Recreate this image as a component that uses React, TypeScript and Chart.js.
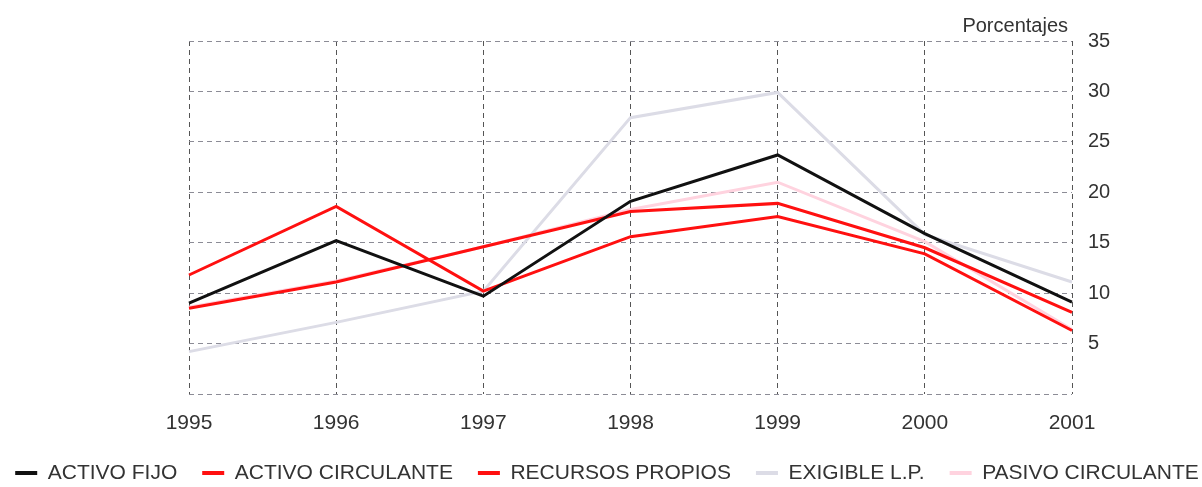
import React, { useEffect, useRef } from 'react';
import { Chart, registerables } from 'chart.js';

Chart.register(...registerables);

const years = ['1995', '1996', '1997', '1998', '1999', '2000', '2001'];
const activoFijo = [9.0, 15.2, 9.7, 19.1, 23.7, 15.9, 9.1];
const activoCirculante = [11.8, 18.6, 10.2, 15.6, 17.6, 13.9, 6.3];
const recursosPropios = [8.5, 11.1, 14.6, 18.1, 18.9, 14.5, 8.1];
const exigibleLP = [4.2, 7.1, 10.2, 27.4, 29.9, 15.8, 11.1];
const pasivoCirculante = [8.6, 11.2, 14.6, 18.3, 21.0, 15.1, 6.4];
const seriesNames = ['ACTIVO FIJO', 'ACTIVO CIRCULANTE', 'RECURSOS PROPIOS', 'EXIGIBLE L.P.', 'PASIVO CIRCULANTE'];
const seriesColors = ['#111111', '#ff1010', '#ff1010', '#dcdce6', '#ffd3df'];
const unitLabel = 'Porcentajes';

const FONT = "'Liberation Sans', Arial, sans-serif";

export default function App() {
  const ref = useRef<HTMLCanvasElement | null>(null);

  useEffect(() => {
    document.body.style.margin = '0';
    const canvas = ref.current;
    if (!canvas) return;
    const seriesData = [activoFijo, activoCirculante, recursosPropios, exigibleLP, pasivoCirculante];

    const titlePlugin = {
      id: 'unitLabel',
      afterDraw(chart: any) {
        const ctx = chart.ctx;
        ctx.save();
        ctx.font = `20px ${FONT}`;
        ctx.fillStyle = '#333333';
        ctx.textAlign = 'right';
        ctx.textBaseline = 'alphabetic';
        ctx.fillText(unitLabel, chart.chartArea.right - 4, 32);
        ctx.restore();
      },
    };

    const chart = new Chart(canvas, {
      type: 'line',
      data: {
        labels: years,
        datasets: seriesNames.map((name, i) => ({
          label: name,
          data: seriesData[i],
          borderColor: seriesColors[i],
          backgroundColor: seriesColors[i],
          borderWidth: 3,
          pointRadius: 0,
          tension: 0,
          fill: false,
          yAxisID: 'y',
        })),
      },
      options: {
        responsive: false,
        animation: false,
        layout: { padding: { left: -24, top: 41, right: -36, bottom: -6.5 } },
        plugins: {
          tooltip: { enabled: false },
          legend: {
            position: 'bottom',
            labels: {
              font: { family: FONT, size: 21 },
              color: '#333333',
              boxWidth: 22,
              boxHeight: 4,
              padding: 25,
              generateLabels: (chart: any) =>
                chart.data.datasets.map((ds: any, i: number) => ({
                  text: ds.label,
                  fillStyle: ds.borderColor,
                  strokeStyle: ds.borderColor,
                  lineWidth: 0,
                  hidden: false,
                  datasetIndex: i,
                  fontColor: '#333333',
                })),
            },
          },
        },
        scales: {
          x: {
            type: 'category',
            offset: false,
            grid: { color: '#555555', drawTicks: false, lineWidth: 1 },
            border: { display: false, dash: [5, 4] },
            ticks: { font: { family: FONT, size: 21 }, color: '#333333', padding: 17, maxRotation: 0, autoSkip: false },
            afterFit: (scale: any) => { scale.height = 43.5; },
          },
          y: {
            position: 'right',
            min: 0,
            max: 35,
            grid: { color: '#8c8c96', drawTicks: false, lineWidth: 1 },
            border: { display: false, dash: [5, 4] },
            ticks: {
              stepSize: 5,
              font: { family: FONT, size: 20 },
              color: '#333333',
              padding: 16,
              callback: (v: any) => (v === 0 ? '' : String(v)),
            },
            afterFit: (scale: any) => { scale.width = 166; },
          },
          spacer: {
            type: 'linear',
            position: 'left',
            display: true,
            grid: { display: false, drawTicks: false },
            border: { display: false },
            ticks: { display: false },
            afterFit: (scale: any) => { scale.width = 213; },
          },
        },
      },
      plugins: [titlePlugin],
    });
    return () => chart.destroy();
  }, []);

  return (
    <div style={{ width: 1202, height: 487, background: '#ffffff' }}>
      <canvas ref={ref} width={1202} height={487} />
    </div>
  );
}
